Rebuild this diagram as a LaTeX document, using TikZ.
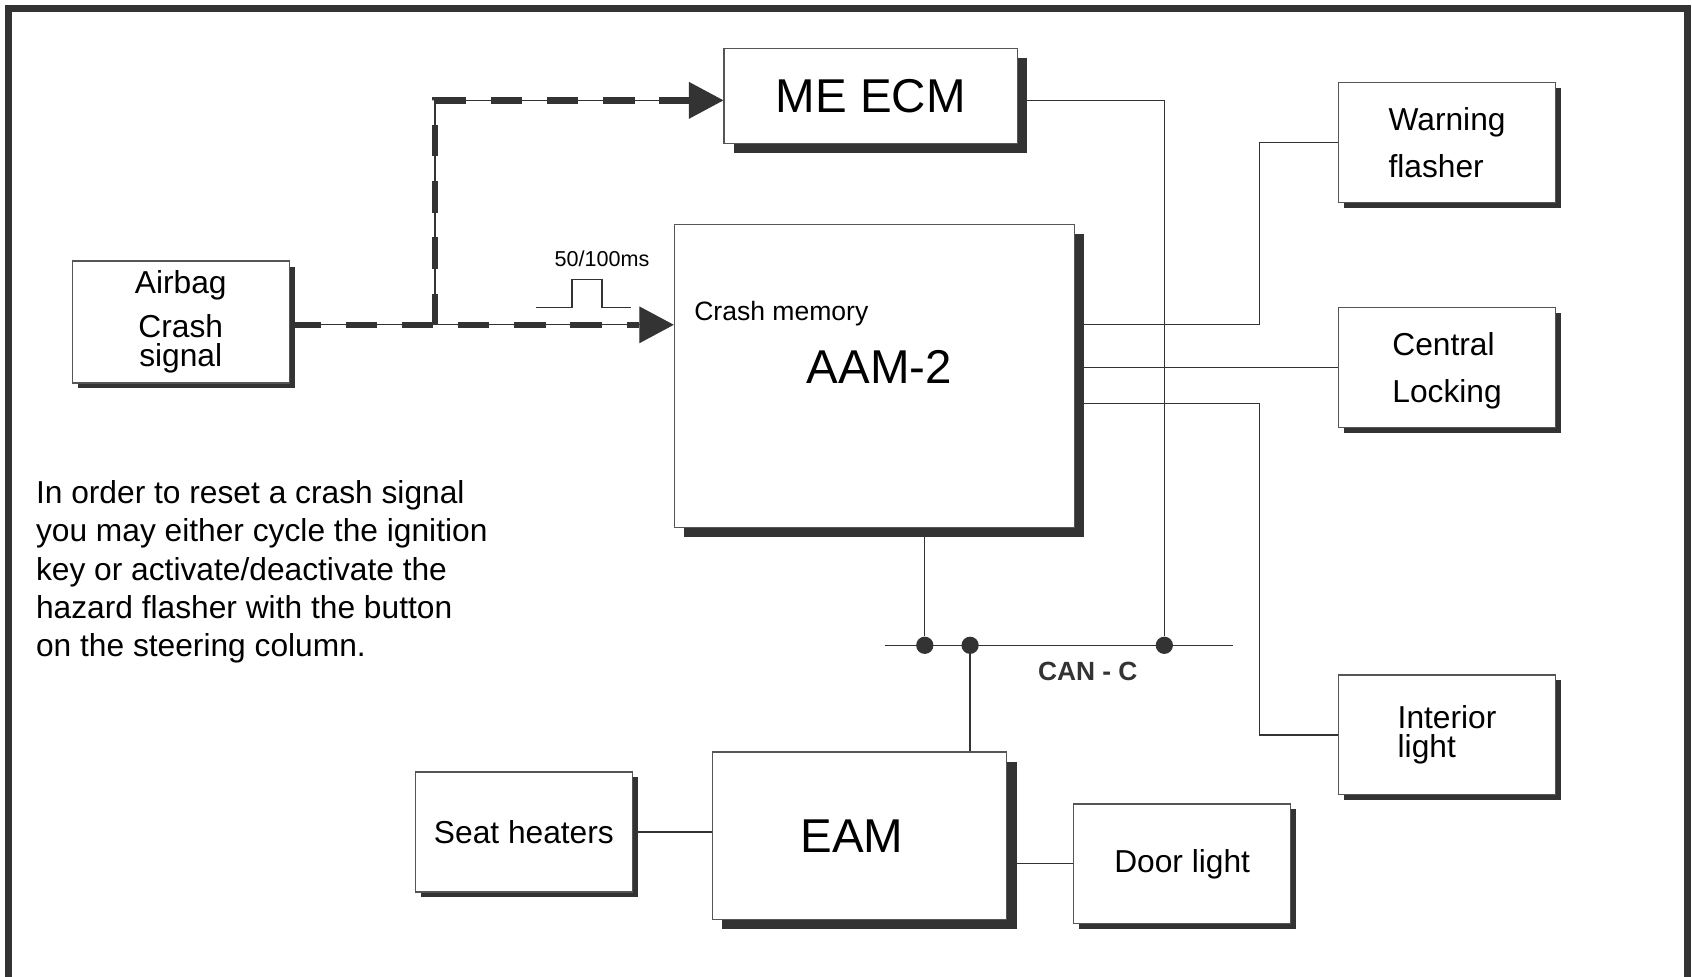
\documentclass[tikz,border=0pt]{standalone}
\usepackage{fontspec}
\setmainfont{Liberation Sans}
\usetikzlibrary{arrows.meta,shadows}
\definecolor{ink}{HTML}{333333}
\definecolor{rim}{HTML}{555555}

\begin{document}
\begin{tikzpicture}[x=0.5pt,y=-0.5pt,
	unit/.style={draw=rim,line width=0.6pt,fill=white,inner sep=0pt,
		minimum width=100.5pt,minimum height=55.5pt,
		font=\fontsize{14.7}{17.75}\selectfont,
		drop shadow={shadow xshift=2.5pt,shadow yshift=-2.5pt,fill=ink,opacity=1}},
	module/.style={draw=rim,line width=0.6pt,fill=white,inner sep=0pt,
		font=\fontsize{22}{26}\selectfont,
		drop shadow={shadow xshift=4.5pt,shadow yshift=-4.5pt,fill=ink,opacity=1}},
	wire/.style={draw=ink,line width=0.6pt},
	heavy/.style={draw=ink,line width=3pt,dash pattern=on 14.5pt off 11.5pt},
	bigtip/.style={-{Triangle[length=16pt,width=17pt]}},
	junction/.style={circle,fill=ink,inner sep=0pt,minimum size=8pt}]

\useasboundingbox (0,0) rectangle (1568,905);
\draw[ink,line width=3pt] (8,905) -- (8,8) -- (1564,8) -- (1564,905);

\node[unit,align=center,minimum height=56.5pt] (airbag) at (167.5,298.5) {Airbag\\[2.5pt]Crash\\[-4.25pt]signal};
\node[module,minimum width=136pt,minimum height=44pt] (ecm) at (807,89) {ME ECM};
\node[module,minimum width=185.5pt,minimum height=140.5pt] (aam) at (810.5,348.5) {};
\node[anchor=west,inner sep=0pt,font=\fontsize{12.3}{14}\selectfont] (memory) at (643,291) {Crash memory};
\node[inner sep=0pt,font=\fontsize{22}{26}\selectfont] (aamlabel) at (815,340) {AAM-2};
\node[unit,align=left,text depth=-5.5pt] (warn) at (1341,132) {Warning\\[3.75pt]flasher};
\node[unit,align=left,text depth=-6pt] (central) at (1341,340.5) {Central\\[3.75pt]Locking};
\node[unit,align=left] (interior) at (1341,681) {Interior\\[-4.5pt]light};
\node[unit] (seat) at (485.5,771) {Seat heaters};
\node[module,minimum width=136.5pt,minimum height=77.5pt] (eam) at (796.5,774.5) {EAM\hspace*{7pt}};
\node[unit] (door) at (1095.5,800.5) {Door light};

\coordinate (split) at (403,301);
\coordinate (busl) at (820,598);
\coordinate (busr) at (1143,598);
\node[junction] (dota) at (857,598) {};
\node[junction] (dotb) at (899,598) {};
\node[junction] (dotc) at (1079,598) {};

\draw[wire,bigtip] (airbag.east |- split) -- (split -| aam.west);
\draw[heavy] (airbag.east |- split) -- ([xshift=-16pt]split -| aam.west);
\draw[wire,bigtip] (split) |- ([yshift=-2pt]ecm.west);
\draw[heavy] (split) |- ([xshift=-16pt,yshift=-2pt]ecm.west);

\draw[wire] (497,285) -| (530,259) -| (558,285) -- (585,285);
\node[inner sep=0pt,font=\fontsize{10}{12}\selectfont] (width) at (558,240) {50/100ms};

\draw[wire] ([yshift=-2pt]ecm.east) -| (dotc);
\draw[wire] (aam.east |- split) -| ([xshift=-36.5pt]warn.west) -- (warn.west);
\draw[wire] (central.west -| aam.east) -- (central.west);
\draw[wire] ([yshift=-12.75pt]aam.east) -| ([xshift=-36.5pt]interior.west) -- (interior.west);

\draw[wire] (busl) -- (busr);
\draw[wire] (aam.south -| dota) -- (dota);
\draw[wire] (dotb) -- (dotb |- eam.north);
\draw[wire] (seat.east) -- (seat.east -| eam.west);
\draw[wire] (door.west -| eam.east) -- (door.west);
\node[inner sep=0pt,font=\bfseries\fontsize{12.2}{14}\selectfont,text=ink] (canlabel) at (1008,622) {CAN - C};

\node[anchor=west,align=left,inner sep=0pt,font=\fontsize{14.7}{17.75}\selectfont] (note) at (33,530)
	{In order to reset a crash signal\\you may either cycle the ignition\\key or activate/deactivate the\\hazard flasher with the button\\on the steering column.};
\end{tikzpicture}
\end{document}
